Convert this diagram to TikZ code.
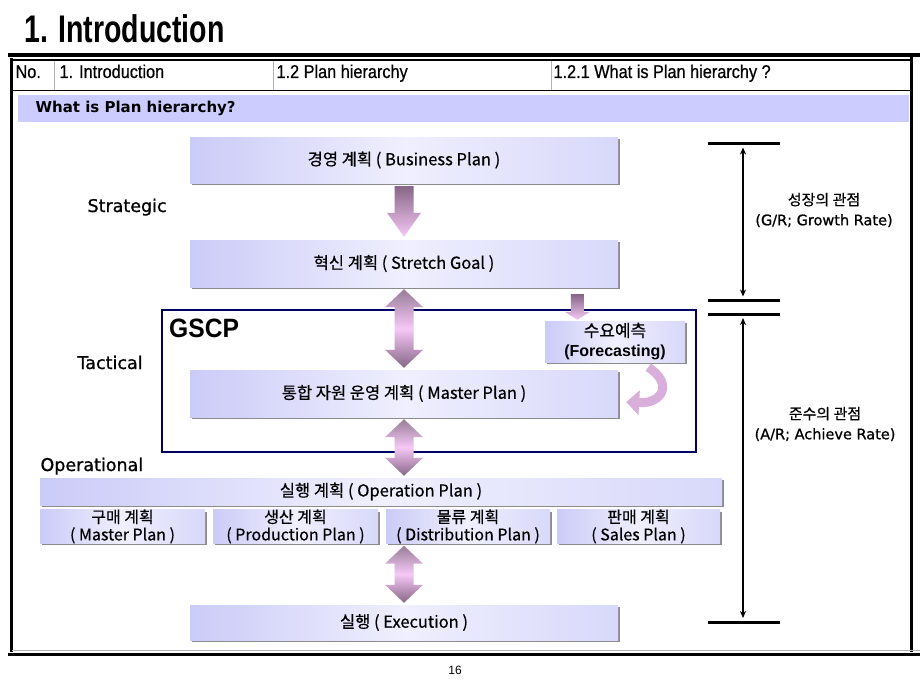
\documentclass[tikz,border=0pt]{standalone}
\usepackage{fontspec}
\setmainfont[FakeBold=0.5]{Noto Sans CJK KR}
\newfontfamily\hdfont[FakeStretch=0.88,FakeBold=0.6]{Liberation Sans}
\newfontfamily\ttlfont[FakeStretch=0.74]{Liberation Sans}
\newfontfamily\lblfont{DejaVu Sans}
\newfontfamily\lblbfont[FakeBold=0.9]{DejaVu Sans}
\newfontfamily\arialfont{Liberation Sans}
\newfontfamily\gscpfont[FakeStretch=0.93]{Liberation Sans}
\usetikzlibrary{shadows,calc,arrows.meta}
\definecolor{lavD}{HTML}{CBCBF8}
\definecolor{lavM}{HTML}{EFEFFE}
\definecolor{lavR}{HTML}{D8D8FA}
\definecolor{bandc}{HTML}{CCCCFF}
\definecolor{navyc}{HTML}{000066}
\definecolor{arD}{HTML}{866686}
\definecolor{arP}{HTML}{F6C8F6}
\definecolor{curvc}{HTML}{DAAEDA}
\newcommand\fatdown[2]{%
  \path[shading=axis,top color=arD,bottom color=arP] let \p1=(#1),\p2=(#2) in
  (\x1-9.5pt,\y1-3pt) -- (\x1+9.5pt,\y1-3pt) -- (\x1+9.5pt,\y2+27pt) -- (\x1+17pt,\y2+27pt) --
  (\x1,\y2+3pt) -- (\x1-17pt,\y2+27pt) -- (\x1-9.5pt,\y2+27pt) -- cycle;}
\newcommand\fatboth[2]{%
  \path[shading=axis,top color=arD!85!white,bottom color=arD,middle color=arP] let \p1=(#1),\p2=(#2) in
  (\x1,\y1-2pt) -- (\x1+19pt,\y1-20pt) -- (\x1+9.5pt,\y1-20pt) -- (\x1+9.5pt,\y2+20pt) --
  (\x1+19pt,\y2+20pt) -- (\x1,\y2+2pt) -- (\x1-19pt,\y2+20pt) -- (\x1-9.5pt,\y2+20pt) --
  (\x1-9.5pt,\y1-20pt) -- (\x1-19pt,\y1-20pt) -- cycle;}
\begin{document}
\begin{tikzpicture}[x=1pt,y=-1pt,
  pbox/.style={rectangle, inner sep=0pt, align=center,
    left color=lavD, right color=lavR, middle color=lavM,
    drop shadow={shadow xshift=2pt,shadow yshift=-2pt,fill=black!45,opacity=1},
    font=\fontsize{16.5}{18}\selectfont},
  hdtext/.style={anchor=base west, font=\hdfont\fontsize{18.5}{20}\selectfont},
  lvl/.style={anchor=base west, font=\lblbfont\fontsize{17.5}{20}\selectfont},
  rlab/.style={align=center, font=\fontsize{15}{20}\selectfont},
  scaleline/.style={line width=3pt},
  scalearrow/.style={line width=1.3pt, {Stealth[length=7pt,width=6pt]}-{Stealth[length=7pt,width=6pt]}}]
\useasboundingbox (0,0) rectangle (920,690);
\fill[white] (0,0) rectangle (920,690);

% title
\node[anchor=west, inner sep=0pt, font=\ttlfont\bfseries\fontsize{38.5}{40}\selectfont] (title) at (24,29) {1. Introduction};

% frame
\draw[line width=3.5pt] (8,55) -- (920,55);
\draw[line width=1.2pt] (11,60) -- (912,60);
\draw[line width=3pt] (11,58.5) -- (11,652);
\draw[line width=3pt] (911,57) -- (911,652);
\draw[line width=1pt] (12,91) -- (910,91);
\draw[gray!60, line width=1pt] (54,61) -- (54,90);
\draw[gray!60, line width=1pt] (273,61) -- (273,90);
\draw[gray!60, line width=1pt] (551,61) -- (551,90);
\draw[gray!60, line width=1pt] (12,650.5) -- (920,650.5);
\draw[line width=3.5pt] (8,654.5) -- (920,654.5);

% header
\node[hdtext] (h0) at (12,78) {No.};
\node[hdtext] (h1) at (56,78) {1. Introduction};
\node[hdtext] (h2) at (273,78) {1.2 Plan hierarchy};
\node[hdtext] (h3) at (550,78) {1.2.1 What is Plan hierarchy ?};

% band
\fill[bandc] (18,95) rectangle (909,122);
\node[anchor=west, font=\lblfont\bfseries\fontsize{15}{17}\selectfont] (band) at (32,108.5) {What is Plan hierarchy?};

% level labels
\node[lvl] (strat) at (84,212) {Strategic};
\node[lvl] (tact) at (74,369) {Tactical};
\node[lvl] (oper) at (37,471) {Operational};

% GSCP frame
\draw[navyc, line width=2.5pt] (162,310) rectangle (696,452);
\node[anchor=west, inner sep=0pt, font=\gscpfont\bfseries\fontsize{26.5}{28}\selectfont] (gscp) at (169,328) {GSCP};

% boxes
\node[pbox, minimum width=428, minimum height=46] (bp) at (404,160) {경영 계획 ( Business Plan )};
\node[pbox, minimum width=428, minimum height=47] (sg) at (404,263.5) {혁신 계획 ( Stretch Goal )};
\node[pbox, minimum width=428, minimum height=47] (mp) at (404,393.5) {통합 자원 운영 계획 ( Master Plan )};
\node[pbox, minimum width=140, minimum height=41, font=\fontsize{16}{20}\selectfont] (fc) at (615,341.5) {\fontsize{17}{20}\selectfont 수요예측\\{\arialfont\bfseries (Forecasting)}};
\node[pbox, minimum width=682, minimum height=27] (op) at (381,491.5) {실행 계획 ( Operation Plan )};
\node[pbox, minimum width=165, minimum height=33, font=\fontsize{16}{17.5}\selectfont] (s1) at (122.5,526.5) {구매 계획\\( Master Plan )};
\node[pbox, minimum width=165, minimum height=33, font=\fontsize{16}{17.5}\selectfont] (s2) at (295.5,526.5) {생산 계획\\( Production Plan )};
\node[pbox, minimum width=164, minimum height=33, font=\fontsize{16}{17.5}\selectfont] (s3) at (468,526.5) {물류 계획\\( Distribution Plan )};
\node[pbox, minimum width=163, minimum height=33, font=\fontsize{16}{17.5}\selectfont] (s4) at (638.5,526.5) {판매 계획\\( Sales Plan )};
\node[pbox, minimum width=428, minimum height=35] (ex) at (404,622.5) {실행 ( Execution )};

% fat arrows
\fatdown{bp.south}{sg.north}
\fatboth{sg.south}{mp.north}
\fatboth{mp.south}{op.north}
\fatboth{s3.south -| mp.south}{ex.north}
\path[shading=axis,top color=arD,bottom color=arP] let \p1=($(fc.north west)+(32.5,0)$),\p2=(sg.south) in
  (\x1-6.5pt,\y2-7pt) -- (\x1+6.5pt,\y2-7pt) -- (\x1+6.5pt,\y1+9pt) -- (\x1+12.5pt,\y1+9pt) --
  (\x1,\y1+1pt) -- (\x1-12.5pt,\y1+9pt) -- (\x1-6.5pt,\y1+9pt) -- cycle;

% curved arrow
\draw[curvc, line width=9pt, -{Triangle[length=13pt,width=24pt]}]
  ($(fc.south east)+(-37,5)$) .. controls (674,384) and (662,404) .. ($(mp.east)+(8,8.5)$);

% right scale
\coordinate (t1) at (743,143.5);
\coordinate (t2) at (743,300.5);
\coordinate (t3) at (743,314);
\coordinate (t4) at (743,622);
\foreach \t in {t1,t2,t3,t4} \draw[scaleline] ([xshift=-35pt]\t) -- ([xshift=37pt]\t);
\draw[scalearrow] ([yshift=-4pt]t1) -- ([yshift=4pt]t2);
\draw[scalearrow] ([yshift=-4pt]t3) -- ([yshift=4pt]t4);
\node[rlab] (gr) at (824,210) {성장의 관점\\{\lblbfont\fontsize{14.5}{20}\selectfont (G/R; Growth Rate)}};
\node[rlab] (ar) at (825,424) {준수의 관점\\{\lblbfont\fontsize{14.5}{20}\selectfont (A/R; Achieve Rate)}};

% page number
\node[font=\arialfont\fontsize{12}{14}\selectfont] (pg) at (455,670) {16};
\end{tikzpicture}
\end{document}
